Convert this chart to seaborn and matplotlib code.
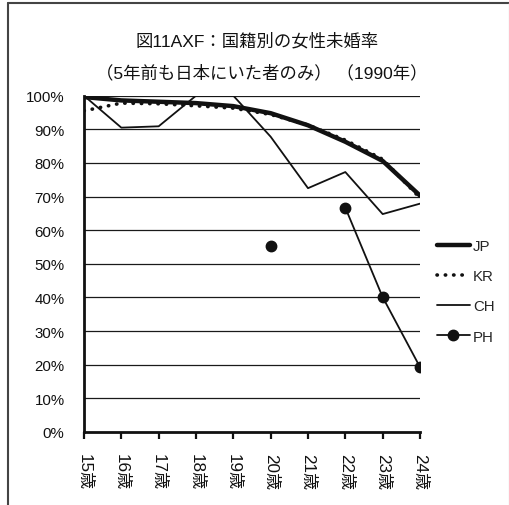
import numpy as np
import pandas as pd
import matplotlib
matplotlib.use("Agg")
import matplotlib.pyplot as plt
from matplotlib.lines import Line2D
import seaborn as sns

ages = ["15歳", "16歳", "17歳", "18歳", "19歳", "20歳", "21歳", "22歳", "23歳", "24歳"]
jp = [99.6, 98.6, 98.2, 97.8, 96.9, 94.8, 91.2, 86.3, 80.6, 70.3]
kr = [95.5, 97.8, 97.6, 97.0, 96.3, 94.4, 91.3, 86.8, 81.1, 69.6]
ch = [100.0, 90.5, 90.9, 100.0, 100.0, 87.8, 72.5, 77.3, 64.8, 67.9]
ph = [np.nan, np.nan, np.nan, np.nan, np.nan, 55.2, np.nan, 66.7, 40.1, 19.3]
series_names = ["JP", "KR", "CH", "PH"]
title_lines = ["図11AXF：国籍別の女性未婚率", "（5年前も日本にいた者のみ） （1990年）"]

sns.set_theme(style="white")
fonts = ["Liberation Sans", "Noto Sans CJK JP", "DejaVu Sans"]
plt.rcParams["font.family"] = fonts

x = np.arange(len(ages))
df = pd.DataFrame({"x": x, "JP": jp, "KR": kr, "CH": ch, "PH": ph})

fig = plt.figure(figsize=(5.10, 5.06), dpi=100)
ax = fig.add_axes([84 / 510, 1 - 433 / 506, 336 / 510, 336.3 / 506])

# horizontal grid
for v in range(10, 101, 10):
    ax.axhline(v, color="#1a1a1a", lw=0.9, zorder=0)

ink = "#111111"
kr_dots = (0, (0.1, 2.2))
sns.lineplot(data=df, x="x", y="JP", ax=ax, color=ink, lw=3.2,
             solid_capstyle="round", zorder=4)
sns.lineplot(data=df, x="x", y="KR", ax=ax, color=ink, lw=2.6,
             linestyle=kr_dots, dash_capstyle="round", zorder=3)
sns.lineplot(data=df, x="x", y="CH", ax=ax, color=ink, lw=1.3, zorder=2)
# PH has gaps; plot through the axes so missing ages break the line
ax.plot(df["x"], df["PH"], color=ink, lw=1.3, marker="o", ms=7.5, zorder=5)

ax.set_xlim(0, 9)
ax.set_ylim(0, 100)
ax.set_xlabel("")
ax.set_ylabel("")
ax.set_yticks(range(0, 101, 10))
ax.set_yticklabels([f"{v}%" for v in range(0, 101, 10)], fontsize=10.8,
                   color=ink)
ax.set_xticks(x)
ax.set_xticklabels(ages, rotation=-90, fontsize=12.3, color=ink,
                   ha="center", va="top")
ax.tick_params(axis="y", length=0, pad=14)
ax.tick_params(axis="x", length=5, width=1.6, color=ink, pad=10,
               direction="out", bottom=True)
for side in ["top", "right"]:
    ax.spines[side].set_visible(False)
for side in ["left", "bottom"]:
    ax.spines[side].set_color(ink)
    ax.spines[side].set_linewidth(2.0)

handles = [
    Line2D([], [], color=ink, lw=3.2),
    Line2D([], [], color=ink, lw=2.6, linestyle=kr_dots, dash_capstyle="round"),
    Line2D([], [], color=ink, lw=1.3),
    Line2D([], [], color=ink, lw=1.3, marker="o", ms=7.5),
]
fig.legend(handles, series_names, loc="upper left",
           bbox_to_anchor=(437 / 510, 1 - 240 / 506), frameon=False,
           fontsize=10.8, handlelength=2.2, handletextpad=0.2,
           labelspacing=1.08, borderpad=0, borderaxespad=0)

fig.text(257 / 510, 1 - 41 / 506, title_lines[0], ha="center", va="center",
         fontsize=12.5, color=ink)
fig.text(262 / 510, 1 - 73 / 506, title_lines[1], ha="center", va="center",
         fontsize=12.5, color=ink)

# outer chart frame: dark top and left edges, faint right edge
fig.add_artist(Line2D([8.5 / 510, 1.0], [1 - 4 / 506, 1 - 4 / 506],
                      transform=fig.transFigure, color="#444444", lw=1.5))
fig.add_artist(Line2D([8.5 / 510, 8.5 / 510], [0.0, 1 - 4 / 506],
                      transform=fig.transFigure, color="#444444", lw=1.5))
fig.add_artist(Line2D([509 / 510, 509 / 510], [0.0, 1 - 4 / 506],
                      transform=fig.transFigure, color="#e4e4e4", lw=1.0))

fig.savefig("out.png", dpi=100)
